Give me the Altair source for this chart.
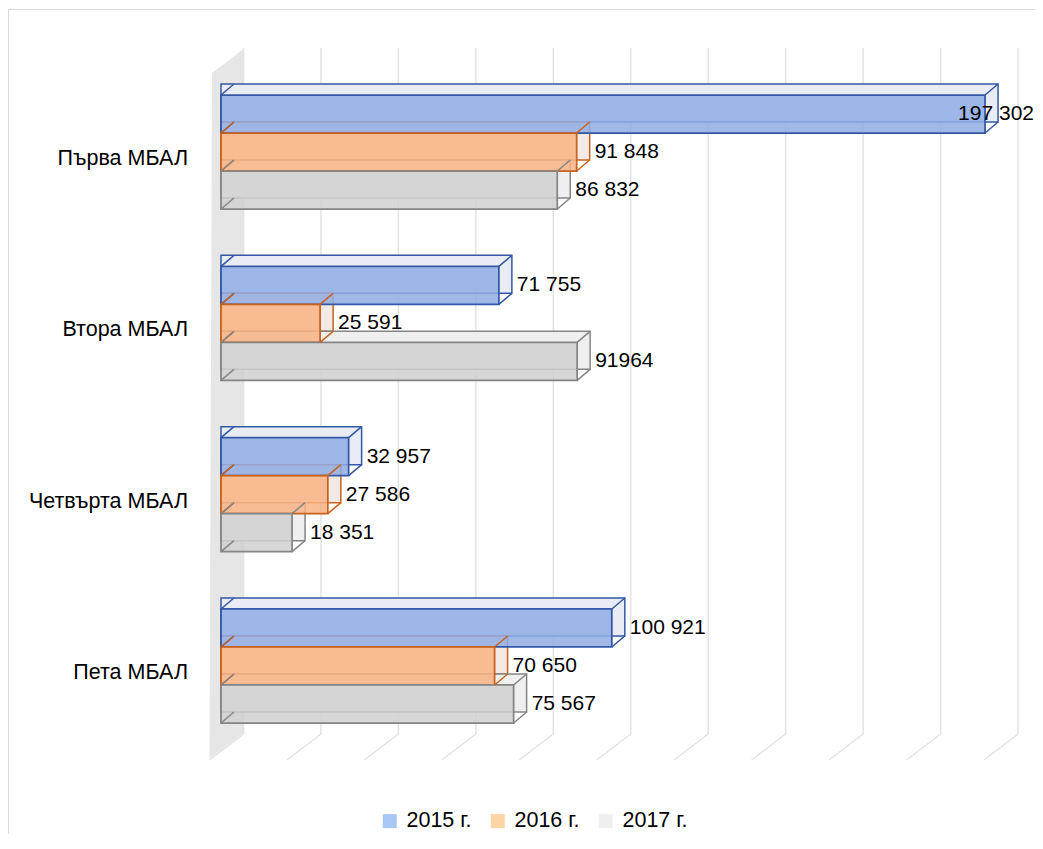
import altair as alt
import pandas as pd

# ---- data -------------------------------------------------------------
categories = ["Първа МБАЛ", "Втора МБАЛ", "Четвърта МБАЛ", "Пета МБАЛ"]
series = ["2015 г.", "2016 г.", "2017 г."]
v2015 = [197302, 71755, 32957, 100921]
v2016 = [91848, 25591, 27586, 70650]
v2017 = [86832, 91964, 18351, 75567]
l2015 = ["197 302", "71 755", "32 957", "100 921"]
l2016 = ["91 848", "25 591", "27 586", "70 650"]
l2017 = ["86 832", "91964", "18 351", "75 567"]
grid_ticks = [0, 20000, 40000, 60000, 80000, 100000, 120000, 140000, 160000, 180000, 200000]

rows = []
for s, vals, labs in zip(series, [v2015, v2016, v2017], [l2015, l2016, l2017]):
    for c, v, l in zip(categories, vals, labs):
        rows.append({"cat": c, "series": s, "value": v, "label": l})
df = pd.DataFrame(rows)
cat_df = pd.DataFrame({"cat": categories})
grid_df = pd.DataFrame({"t": grid_ticks})

# ---- styles -------------------------------------------------------------
FONT = "Liberation Sans"
front_fill = ["#8FADE5", "#F9B384", "#D0D0D0"]
edge = ["#3358A6", "#C9611B", "#858585"]
back_fill = ["#E9ECF3", "#F3EAE5", "#EFEFEF"]
legend_fill = ["#A9C7F5", "#FDD4A3", "#EFEFEF"]

W, H = 1027, 826

X = alt.Scale(domain=[0, 200000], range=[213, 987.5])
def Y(shift=0):
    return alt.Scale(domain=categories, type="band", range=[87 + shift, 715 + shift],
                     paddingInner=0.3346, paddingOuter=0)
YO = alt.Scale(domain=series, type="band", paddingInner=0, paddingOuter=0)
YO_pt = alt.Scale(domain=series, type="point", padding=0.5)

WALL = "M-9,-661L22.5,-685L22.5,-1L-11.5,25Z"
GRID = "M22.5,-686L22.5,0L-11.5,26"
CORNER = "M0,-19L13,-30M0,19L13,8"
FLOOR_Y = 726

base = alt.Chart(df)

border = alt.Chart(pd.DataFrame({"b": [0]})).mark_rule(color="#D9D9D9", strokeWidth=1).encode(
    x=alt.value(0.5), y=alt.value(1.5), x2=alt.value(W)
)
border_l = alt.Chart(pd.DataFrame({"b": [0]})).mark_rule(color="#D9D9D9", strokeWidth=1).encode(
    x=alt.value(0.5), y=alt.value(1.5), y2=alt.value(H)
)

wall = alt.Chart(pd.DataFrame({"x": [0]})).mark_point(
    shape=WALL, size=4, filled=True, fill="#E6E6E6", opacity=1, strokeWidth=0
).encode(x=alt.X("x:Q", scale=X, axis=None), y=alt.value(FLOOR_Y))

grid = alt.Chart(grid_df).mark_point(
    shape=GRID, size=4, filled=False, stroke="#E3E3E3", strokeWidth=1.5, opacity=1
).encode(x=alt.X("t:Q", scale=X, axis=None), y=alt.value(FLOOR_Y))

back = base.mark_bar(xOffset=13, x2Offset=13, strokeWidth=1.5, fillOpacity=1).encode(
    x=alt.X("value:Q", scale=X, axis=None, stack=None),
    y=alt.Y("cat:N", scale=Y(-11), axis=None),
    yOffset=alt.YOffset("series:N", scale=YO),
    fill=alt.Fill("series:N", scale=alt.Scale(domain=series, range=back_fill), legend=None),
    stroke=alt.Stroke("series:N", scale=alt.Scale(domain=series, range=edge), legend=None),
)

front = base.mark_bar(strokeWidth=1.75, fillOpacity=0.85).encode(
    x=alt.X("value:Q", scale=X, axis=None, stack=None),
    y=alt.Y("cat:N", scale=Y(), axis=None),
    yOffset=alt.YOffset("series:N", scale=YO),
    fill=alt.Fill("series:N", scale=alt.Scale(domain=series, range=front_fill), legend=None),
    stroke=alt.Stroke("series:N", scale=alt.Scale(domain=series, range=edge), legend=None),
)

def corners(xfield):
    return base.transform_calculate(zero="0").mark_point(
        shape=CORNER, size=4, filled=False, strokeWidth=1.5, opacity=1
    ).encode(
        x=alt.X(xfield, scale=X, axis=None),
        y=alt.Y("cat:N", scale=Y(), axis=None),
        yOffset=alt.YOffset("series:N", scale=YO_pt),
        stroke=alt.Stroke("series:N", scale=alt.Scale(domain=series, range=edge), legend=None),
    )

corner_r = corners("value:Q")
corner_l = corners("zero:Q")

labels = base.transform_filter(alt.datum.value < 190000).mark_text(
    align="left", baseline="middle", dx=18, font=FONT, fontSize=21, color="#000000"
).encode(
    x=alt.X("value:Q", scale=X, axis=None),
    y=alt.Y("cat:N", scale=Y(), axis=None),
    yOffset=alt.YOffset("series:N", scale=YO_pt),
    text="label:N",
)

labels_edge = base.transform_filter(alt.datum.value >= 190000).mark_text(
    align="right", baseline="middle", font=FONT, fontSize=21, color="#000000"
).encode(
    x=alt.value(W - 1),
    y=alt.Y("cat:N", scale=Y(), axis=None),
    yOffset=alt.YOffset("series:N", scale=YO_pt),
    text="label:N",
)

cat_labels = alt.Chart(cat_df).mark_text(
    align="right", baseline="middle", dy=7, font=FONT, fontSize=21.5, color="#000000"
).encode(
    x=alt.value(180),
    y=alt.Y("cat:N", scale=Y(), axis=None),
    text="cat:N",
)

legend_layer = base.mark_point(filled=True, opacity=0).encode(
    x=alt.X("value:Q", scale=X, axis=None),
    y=alt.Y("cat:N", scale=Y(), axis=None),
    color=alt.Color(
        "series:N",
        scale=alt.Scale(domain=series, range=legend_fill),
        legend=alt.Legend(
            title=None, orient="none", legendX=371, legendY=802, direction="horizontal",
            symbolType="square", symbolSize=196, symbolOpacity=1, symbolStrokeWidth=0,
            labelFont=FONT, labelFontSize=21.5, labelColor="#000000",
            labelOffset=6, columnPadding=15, padding=0,
        ),
    ),
)

chart = alt.layer(
    border, border_l, wall, grid, back, front, corner_l, corner_r,
    labels, labels_edge, cat_labels, legend_layer
).resolve_scale(
    y="independent", yOffset="independent", fill="independent", stroke="independent"
).properties(
    width=W, height=H, autosize=alt.AutoSizeParams(type="none"),
    padding={"left": 0, "top": 0, "right": 0, "bottom": 0},
).configure_view(stroke=None)

chart.save("out.html", embed_options={"renderer": "svg", "actions": False})
